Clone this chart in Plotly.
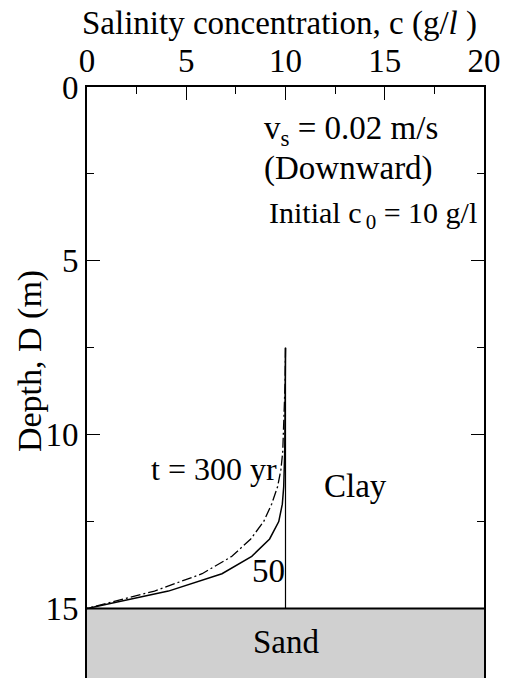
import plotly.graph_objects as go

# ---------------- data ----------------
depth_nodes = [7.5, 8.0, 8.5, 9.0, 9.5, 10.0, 10.5, 11.0, 11.5, 12.0, 12.5, 13.0, 13.5, 14.0, 14.5, 15.0]
c_50yr = [10.0, 10.0, 10.0, 10.0, 9.99, 9.97, 9.96, 9.94, 9.91, 9.84, 9.66, 9.2, 8.3, 6.8, 4.1, 0.0]
c_300yr = [10.0, 10.0, 9.98, 9.95, 9.93, 9.9, 9.86, 9.77, 9.6, 9.3, 8.9, 8.25, 7.3, 5.8, 3.4, 0.0]
init_depth = [7.5, 15.0]
init_c = [10.0, 10.0]
x_ticks = [0, 5, 10, 15, 20]
y_ticks = [0, 5, 10, 15]
sand_top = 15.0
sand_bottom = 18.0

FONT = "Liberation Serif"
FS = 33

fig = go.Figure()

fig.add_trace(go.Scatter(x=init_c, y=init_depth, mode="lines",
                         line=dict(color="black", width=1.2), showlegend=False))
fig.add_trace(go.Scatter(x=c_50yr, y=depth_nodes, mode="lines",
                         line=dict(color="black", width=1.5), showlegend=False))
fig.add_trace(go.Scatter(x=c_300yr, y=depth_nodes, mode="lines",
                         line=dict(color="black", width=1.3, dash="10px,3px,2px,3px"),
                         showlegend=False))

fig.add_shape(type="rect", xref="x", yref="y", x0=0, x1=20, y0=sand_top, y1=sand_bottom,
              fillcolor="#d0d0d0", line=dict(width=0), layer="below")
fig.add_shape(type="line", xref="x", yref="y", x0=0, x1=20, y0=sand_top, y1=sand_top,
              line=dict(color="black", width=2))

tickfont = dict(family=FONT, size=FS, color="black")

fig.update_xaxes(side="top", range=[0, 20], tickvals=x_ticks, ticks="inside",
                 ticklen=13, tickwidth=1.3, tickcolor="black",
                 minor=dict(dtick=2.5, tick0=0, ticks="inside", ticklen=7, tickwidth=1.3, tickcolor="black"),
                 showline=True, linewidth=1.6, linecolor="black", mirror=False,
                 showgrid=False, zeroline=False, tickfont=tickfont)
fig.update_yaxes(range=[17.0, 0], tickvals=y_ticks, ticks="inside",
                 ticklen=13, tickwidth=1.3, tickcolor="black",
                 minor=dict(dtick=2.5, tick0=0, ticks="inside", ticklen=7, tickwidth=1.3, tickcolor="black"),
                 showline=True, linewidth=1.6, linecolor="black", mirror="allticks",
                 showgrid=False, zeroline=False, tickfont=tickfont)

def ann(text, x, y, xanchor="left", size=FS, xref="x", yref="y", angle=0):
    fig.add_annotation(text=text, x=x, y=y, xref=xref, yref=yref, xanchor=xanchor,
                       yanchor="middle", showarrow=False, textangle=angle,
                       font=dict(family=FONT, size=size, color="black"))

ann("Salinity concentration, c (g/<i>l</i> )", 0.485, 1.107, xanchor="center", xref="paper", yref="paper")
ann("Depth, D (m)", -0.145, 0.537, xanchor="center", xref="paper", yref="paper", angle=-90, size=34)
ann("v<sub>s</sub> = 0.02 m/s", 8.82, 1.25)
ann("(Downward)", 8.82, 2.34)
ann("Initial c<sub>&#8201;0</sub> = 10 g/l", 9.06, 3.69, size=30)
ann("t = 300 yr", 9.65, 11.0, xanchor="right", size=32)
ann("50", 8.2, 13.93)
ann("Clay", 11.85, 11.49)
ann("Sand", 10.05, 15.95, xanchor="center")

fig.update_layout(width=510, height=678, margin=dict(l=87, r=26, t=87, b=0),
                  plot_bgcolor="white", paper_bgcolor="white", showlegend=False)

fig.write_html("out.html")
